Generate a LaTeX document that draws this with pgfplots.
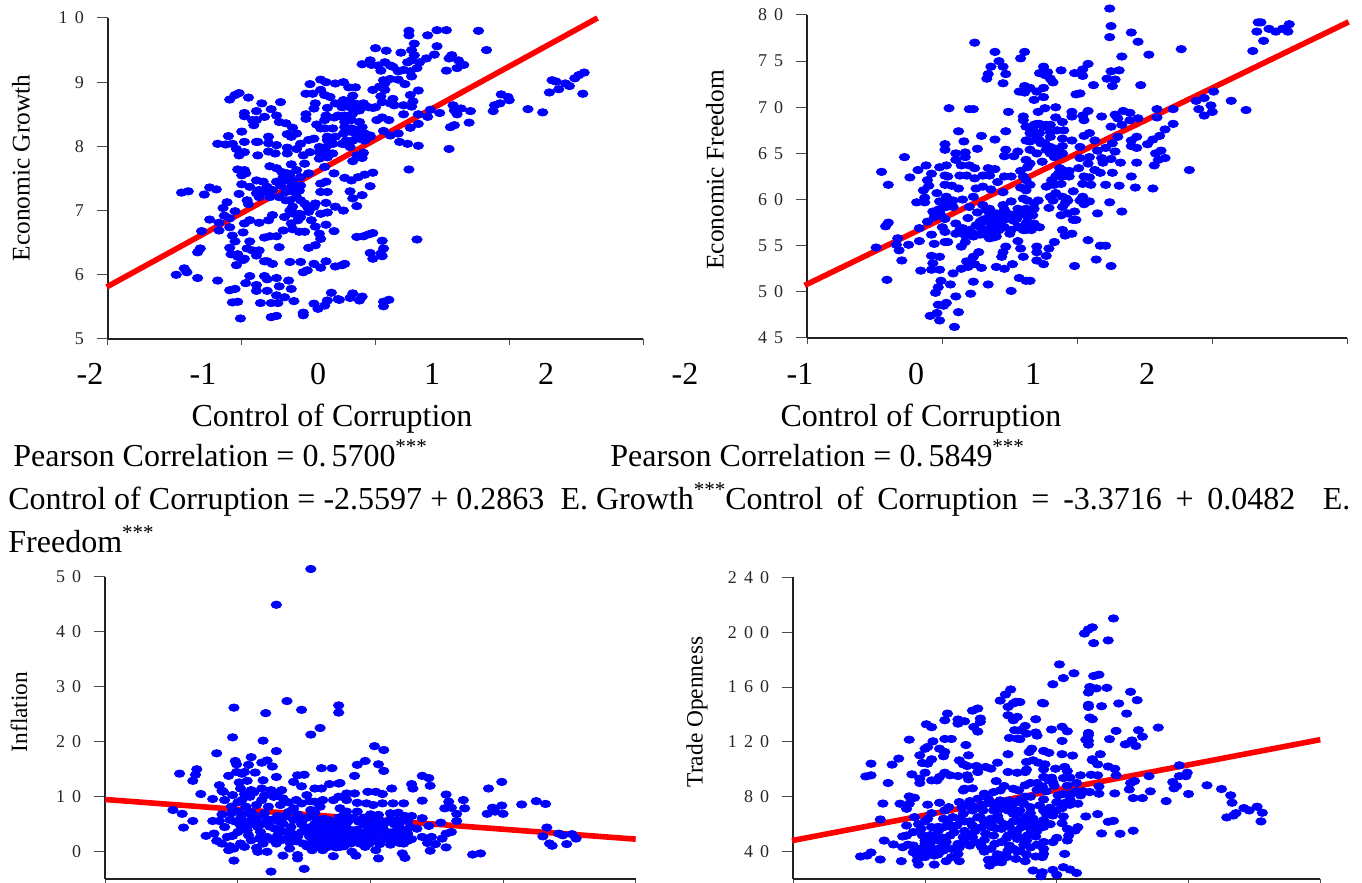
\documentclass[border=0pt]{standalone}
\usepackage{fontspec}
\setmainfont{Liberation Serif}
\usepackage{pgfplots}
\pgfplotsset{compat=1.18}
\definecolor{axisblack}{HTML}{222222}
\newcommand\stars{\raisebox{.42em}{\fontsize{10.5}{10.5}\selectfont ***}}
\newcommand\g{\hspace{3.6pt}}
\pgfplotsset{
  panel/.style={
    scale only axis, anchor=south west, clip=false,
    axis x line=bottom, axis y line=left,
    axis line style={-, line width=1.1pt, color=axisblack},
    xmin=-2, xmax=2, xtick={-2,-1,0,1,2}, xticklabels={},
    tick align=outside, major tick length=5.5pt,
    tick style={line width=.5pt, color=black!70},
    xtick style={/pgfplots/major tick length=3pt},
    yticklabel style={font=\fontsize{9}{9}\selectfont, xshift=-3pt, text=black!85},
  },
  dots/.style={only marks, mark=*, mark size=1.85pt, color=blue,
    mark options={xscale=1.4, draw=none, fill=blue}},
  fit/.style={no marks, red, line width=2.8pt},
}
\begin{document}
\begin{tikzpicture}
\useasboundingbox (0,0) rectangle (681pt,441.5pt);

% Economic Growth
\begin{axis}[panel, at={(54pt,272pt)}, width=267.5pt, height=160.5pt,
  ymin=5, ymax=10, ytick={5,6,7,8,9,10}, yticklabels={5,6,7,8,9,1\g 0}]
\addplot[dots] coordinates {
(.25,9.80)(.25,9.73)(.39,9.73)(.46,9.81)(.53,9.81)(.77,9.80)(.83,9.50)(0,9.53)(.08,9.49)(.19,9.46)(.27,9.50)(.29,9.60)(.46,9.56)(.44,9.43)(.57,9.42)(.55,9.37)(.62,9.34)(.66,9.27)(.61,9.22)(.53,9.18)
(-.10,9.28)(-.04,9.34)(-.03,9.27)(.07,9.31)(.04,9.18)(.13,9.24)(.17,9.17)(.24,9.31)(.29,9.42)(.33,9.31)(.38,9.37)(.31,9.22)(.26,9.17)(.27,9.09)
(.06,9.03)(.11,9.05)(.17,9.04)(.22,8.97)(.07,8.88)(-.02,8.88)(-.15,8.92)(-.20,8.92)(-.24,9.0)
(.32,8.87)(.26,8.80)(.28,8.70)(.13,8.74)(.04,8.78)(-.02,8.60)(.27,8.62)(.21,8.64)(.14,8.64)
(.21,8.50)(.32,8.50)(.39,8.46)(.41,8.57)(.48,8.52)(.58,8.64)(.59,8.56)(.64,8.59)(.71,8.55)(.61,8.50)(.70,8.37)(.59,8.33)(.56,8.30)
(.88,8.55)(.89,8.64)(.93,8.67)(.94,8.81)(.99,8.77)(1.0,8.72)
(1.14,8.58)(1.25,8.53)(1.30,8.84)(1.32,9.03)(1.35,9.01)(1.37,8.89)(1.42,8.98)(1.45,8.94)(1.49,9.06)(1.52,9.11)(1.56,9.15)(1.55,8.82)
(.01,8.41)(.05,8.45)(.10,8.41)(.06,8.24)(.26,8.29)(.32,8.35)(.17,8.20)(.11,8.17)(.18,8.07)(.24,8.04)(.32,8.01)(.55,7.96)(.25,7.64)
(-.12,8.38)(-.10,8.30)(-.18,8.28)(-.23,8.30)(-.15,8.20)(-.04,8.15)(-.08,8.09)(-.19,7.99)(-.25,8.04)(-.12,8.56)(-.19,8.61)(-.14,8.66)(-.23,8.71)(-.17,8.79)(-.25,8.46)(-.24,8.20)
(-.10,7.82)(-.17,7.77)(-.09,7.90)(-.14,7.86)
(-.02,7.59)(-.08,7.56)(-.13,7.52)(-.18,7.47)(-.23,7.51)(-.04,7.38)(-.19,7.30)(-.10,7.24)(-.17,7.19)(-.14,7.07)(-.24,7.0)
(-.14,6.59)(-.09,6.60)(-.05,6.63)(-.02,6.65)(.05,6.53)(.31,6.55)
(-.04,6.34)(.06,6.41)(.04,6.33)(.05,6.29)(-.02,6.25)(-.23,6.17)(-.25,6.15)
(-.17,5.71)(-.19,5.64)(-.12,5.60)(-.10,5.66)(-.27,5.61)(.06,5.51)(.06,5.58)(.10,5.61)
(-1.01,5.32)(-.78,5.34)(-.74,5.36)(-.54,5.37)(-.54,5.41)(-1.07,5.57)(-1.03,5.58)(-.86,5.56)(-.78,5.56)(-.73,5.56)(-.74,5.68)(-.68,5.65)(-.61,5.59)
(-1.09,5.76)(-1.05,5.78)(-.89,5.75)(-.81,5.75)(-.63,5.78)(-.97,5.87)(-.94,5.98)(-.89,5.84)(-.83,5.98)(-.81,5.93)(-.74,5.95)(-.72,5.82)(-.65,5.91)
(-1.49,6.0)(-1.43,6.10)(-1.41,6.04)(-1.33,5.95)(-1.18,5.91)
(-.46,5.55)(-.43,5.47)(-.38,5.52)(-.36,5.6)(-.33,5.72)(-.28,5.62)
(-.54,6.04)(-.51,6.07)(-.46,6.17)(-.41,6.11)(-.37,6.21)(-.30,6.13)(-.64,6.2)(-.56,6.2)(-.77,6.17)(-.81,6.21)(-.83,6.21)
(-1.04,6.15)(-.99,6.23)(-.98,6.25)(-1.03,6.28)(-1.08,6.32)(-1.03,6.32)(-.96,6.41)(-.92,6.38)(-.87,6.38)(-.89,6.30)
(-.94,6.52)(-.99,6.66)(-1.09,6.74)(-1.07,6.61)(-1.05,6.52)(-1.09,6.42)(-1.30,6.68)(-1.17,6.69)(-1.31,6.41)(-1.33,6.35)
(-.69,6.69)(-.62,6.71)(-.57,6.67)(-.53,6.67)(-.83,6.58)(-.79,6.60)(-.74,6.60)(-.72,6.43)(-.50,6.42)(-.45,6.46)(-.41,6.56)(-.42,6.64)(-.31,6.68)(-.37,6.78)(-.45,6.75)(-.48,6.85)(-.41,6.95)(-.36,6.97)(-.30,7.06)(-.37,7.12)
(-.41,7.42)(-.36,7.29)(-.41,7.29)(-.37,7.45)
(-1.45,7.28)(-1.40,7.30)(-1.28,7.25)(-1.24,7.36)(-1.19,7.33)(-1.11,7.13)(-1.14,7.04)(-1.13,6.92)(-1.24,6.86)(-1.17,6.81)(-1.05,6.99)(-1.09,6.88)(-.96,7.16)(-.95,7.10)(-.87,7.21)(-.79,7.29)(-.72,7.21)(-.63,7.36)(-.57,7.31)(-.67,7.16)(-.62,7.06)(-.56,7.16)(-.51,7.06)(-.46,7.06)(-.57,6.95)(-.64,7.0)(-.77,6.93)(-.68,6.90)(-.80,6.85)(-.87,6.81)(-.94,6.85)(-.98,6.80)
(-1.03,7.64)(-.98,7.63)(-.97,7.58)(-1.0,7.55)(-.79,7.69)(-.74,7.66)(-.63,7.72)(-.70,7.60)(-.59,7.63)(-.64,7.55)(-.89,7.47)(-.84,7.45)(-1.0,7.41)(-.94,7.37)(-1.02,7.26)(-.87,7.32)(-.74,7.45)(-.81,7.37)(-.67,7.47)(-.56,7.52)(-.63,7.45)(-.50,7.58)
(-1.10,8.16)(-1.18,8.04)(-1.12,8.03)(-1.07,8.04)(-1.04,7.96)(-1.02,7.86)(-.98,7.91)(-.98,8.07)(-.89,8.07)(-.88,8.07)(-.80,8.15)(-.80,8.05)(-.74,8.02)(-.80,7.92)(-.75,7.89)(-.66,7.98)(-.66,7.89)(-.88,7.86)
(-1.02,8.83)(-1.05,8.80)(-1.09,8.73)(-.95,8.76)(-.71,8.69)(-.85,8.67)(-.89,8.55)(-.78,8.58)(-.98,8.52)(-.98,8.47)(-.92,8.41)(-.89,8.41)(-.91,8.33)(-.83,8.46)(-.74,8.48)(-.72,8.38)(-.67,8.36)(-.62,8.29)(-.63,8.15)(-.66,8.19)(-.59,8.20)(-1.0,8.23)
(-.41,9.04)(-.37,9.0)(-.30,8.98)(-.49,8.97)(-.41,8.88)(-.52,8.82)(-.47,8.82)(-.38,8.80)(-.34,8.77)(-.30,8.67)(-.45,8.67)(-.46,8.59)(-.36,8.60)(-.28,8.48)(-.52,8.50)(-.52,8.43)(-.37,8.48)(-.38,8.41)(-.31,8.45)(-.44,8.34)(-.38,8.28)(-.32,8.28)(-.41,8.28)(-.46,8.12)(-.50,8.10)(-.36,8.15)(-.32,8.04)(-.42,7.99)(-.37,7.99)(-.32,7.89)(-.56,8.04)(-.59,7.96)(-.54,7.86)(-.49,7.91)(-.42,7.81)(-.36,7.83)(-.53,7.73)(-.38,7.68)(-.31,7.58)
(-.69,7.52)(-.66,7.58)(-.62,7.47)(-.71,7.39)(-.67,7.29)(-.61,7.29)(-.56,7.39)(-.64,7.16)(-.59,7.21)(-.53,7.11)(-.61,6.95)(-.56,6.90)(-.50,6.98)(-.45,7.11)(-.63,6.80)(-.58,6.85)(-.77,7.32)(-.84,7.29)(-.79,7.21)(-.89,7.27)
(-.32,8.04)(-.36,8.10)(-.40,7.94)(-.35,7.89)(-.42,7.91)(-.30,8.15)
(-.24,8.72)(-.19,8.72)(-.13,8.61)(-.17,8.51)(-.23,8.48)(-.25,8.61)(-.09,8.67)(-.05,8.61)(-.19,8.23)(-.14,8.25)(-.22,8.09)(-.17,8.09)(-.12,8.12)(-.08,8.20)(-.04,8.17)(-.24,8.04)(-.23,8.38)(-.18,8.41)(0,8.61)(.05,8.69)(.11,8.67)(.07,8.98)(.03,8.93)(.27,9.34)(.11,9.26)(.21,9.19)(.02,9.26)
};
\addplot[fit] coordinates {(-2.01,5.81)(1.66,10.0)};
\end{axis}

% Economic Freedom
\begin{axis}[panel, at={(403.65pt,272.5pt)}, width=270pt, height=161.5pt,
  ymin=45, ymax=80, ytick={45,50,55,60,65,70,75,80}, yticklabels={4\g 5,5\g 0,5\g 5,6\g 0,6\g 5,7\g 0,7\g 5,8\g 0}]
\addplot[dots] coordinates {
(.24,80.7)(.25,78.8)(.24,77.6)(.40,78.1)(.45,77.1)(.53,75.7)(.77,76.3)(.33,75.5)(.08,74.7)(.04,74.1)(-.02,73.7)(.04,73.4)(-.12,74.0)(-.25,74.4)(-.22,73.8)(-.28,73.7)(-.20,73.1)(-.18,72.7)(-.24,73.5)(.25,73.9)(.31,74.0)(.22,73.1)(.28,73.0)(.26,72.3)(.12,72.4)(.47,72.4)(.02,71.5)(-.01,71.4)(-.25,72.1)(-.30,71.7)(-.25,71.1)(-.32,70.8)(-.35,72.1)
(1.34,79.2)(1.36,79.2)(1.33,78.2)(1.42,78.5)(1.47,78.2)(1.56,78.2)(1.57,79.0)(1.52,78.5)(1.38,77.2)(1.30,76.1)(1.01,71.7)(.94,71.0)(.88,70.7)(.90,69.8)(.99,70.2)(1.0,69.5)(.94,69.1)(1.14,70.7)(1.25,69.7)
(-.16,70.0)(-.24,69.9)(-.29,69.5)(-.04,69.5)(-.04,69.0)(.08,69.6)(.04,69.1)(.05,68.6)(.18,69.0)(-.16,68.9)(-.11,68.4)(-.10,67.5)(.28,69.2)(.34,69.6)(.39,69.4)(.30,68.8)(.39,68.6)(.45,68.8)(.59,69.8)(.59,68.9)(.71,69.8)(.71,68.2)(.65,67.6)(.61,66.9)(.56,66.5)(.52,66.0)(.25,67.9)(.33,68.1)
(.09,67.2)(.05,66.9)(.13,66.4)(.44,66.8)(.40,66.4)(.40,65.8)(.44,65.6)(.26,66.1)(.21,65.6)(.15,65.3)(.30,66.8)(.62,65.3)(.58,65.0)(.65,64.5)(.60,64.3)(.57,63.7)(.44,64.0)(.32,64.0)(.28,65.2)(.25,64.4)(.18,64.5)(.19,64.0)(.08,63.9)(.09,64.6)(.02,64.5)(.02,65.7)(-.04,66.4)(-.11,66.6)(-.11,65.8)(-.20,66.8)(-.28,66.4)(-.35,66.3)
(.01,63.4)(-.06,63.1)(-.06,62.5)(-.13,63.4)(-.16,62.5)(-.12,61.7)(-.19,62.1)(-.23,61.4)(-.17,61.6)(-.35,61.6)(.05,62.5)(.09,62.4)(.04,61.7)(.10,61.6)(.17,62.9)(.26,62.9)(.13,63.2)(.21,61.6)(.31,61.5)(.40,62.5)(.43,61.3)(.56,61.2)(.83,63.2)
(-.03,60.9)(-.16,60.7)(-.20,60.3)(-.29,59.9)(-.08,60.1)(.04,60.3)(.09,59.8)(-.09,59.6)(.05,59.5)(-.21,59.1)(-.11,59.2)(-.02,58.7)(-.07,58.5)(-.12,58.3)(.24,59.7)(.15,58.5)(.33,58.7)(-.01,57.8)(-.03,57.8)(-.32,59.0)(-.33,58.3)(-.32,57.4)(-.28,57.0)(-.34,56.7)(-.11,56.7)(-.09,56.1)(-.04,56.3)(.08,55.6)(-.17,55.4)(-.21,54.7)(-.30,54.9)(-.30,54.3)(-.23,53.9)(-.30,53.4)(-.25,53.0)(-.02,52.8)(.14,53.5)(.25,52.8)(.17,55.0)(.21,55.0)(-.35,51.2)
(-.25,67.9)(-.30,68.2)(-.33,67.7)(-.23,68.1)(-.20,67.3)(-.27,66.1)(-.23,65.4)(-.18,65.2)(-.14,64.8)(-.30,65.0)(-.26,64.1)(-.35,63.9)
(-.76,77.0)(-.61,76.0)(-.58,75.0)(-.64,74.4)(-.55,74.4)(-.66,73.6)(-.67,73.1)(-.53,73.6)(-.55,72.6)(-.39,76.0)(-.42,75.3)(-.39,72.3)(-.43,71.7)(-.39,71.6)(-.95,69.9)(-.80,69.8)(-.77,69.8)(-.51,69.5)(-.40,69.0)(-.40,68.6)(-.38,67.9)
(-.88,67.4)(-.53,67.4)(-.71,66.9)(-.61,66.5)(-.84,66.3)(-.37,66.4)(-.98,66.0)(-.98,65.4)(-.74,65.5)(-.53,65.4)(-.54,64.7)(-.90,65.0)(-.83,65.1)(-.83,64.6)(-.44,65.2)(-.47,64.7)(-1.28,64.6)(-1.45,63.0)(-1.40,61.6)(-1.24,62.4)(-1.18,63.2)(-1.12,63.7)
(-1.08,62.8)(-1.11,62.1)(-1.10,61.5)(-1.14,61.0)(-1.04,60.7)(-1.02,63.5)(-.97,63.7)(-.90,64.3)(-.86,63.7)(-.80,63.7)(-.76,63.4)(-.66,63.4)(-.61,63.3)
(-.98,62.6)(-.96,62.5)(-.87,62.6)(-.82,62.6)(-.76,62.3)(-.70,62.6)(-.65,62.6)(-.59,61.9)(-.54,62.5)(-.49,62.5)(-.42,63.1)(-.98,61.6)(-.93,61.5)(-.88,61.2)(-.75,61.2)(-.70,61.4)(-.64,61.1)(-.55,60.8)(-.42,61.3)
(-1.13,60.2)(-1.19,59.7)(-1.13,59.7)(-1.02,59.8)(-.97,60.3)(-.92,59.9)(-.85,60.0)(-.77,60.3)(-.40,60.1)(-.49,59.8)(-.55,59.4)
(-1.07,58.7)(-1.03,58.9)(-.97,59.2)(-1.06,58.1)(-1.01,58.3)(-.80,59.2)(-.70,59.4)(-.65,59.0)(-.60,58.5)(-.54,58.9)(-.44,59.0)(-.38,59.0)(-.81,58.0)
(-1.40,57.5)(-1.42,57.1)(-1.11,57.6)(-1.17,56.9)(-1.0,57.0)(-1.08,56.2)(-.98,56.5)(-.90,57.4)(-.85,56.9)(-.75,57.2)(-.70,57.8)(-.65,58.1)(-.59,57.4)(-.54,57.8)(-.47,57.7)(-.43,57.0)(-.38,57.4)(-.38,56.7)(-.49,56.7)(-.58,56.7)(-.64,57.0)(-.69,56.7)(-.77,56.3)(-.83,56.1)(-.90,56.3)
(-1.33,55.8)(-1.49,54.8)(-1.34,55.1)(-1.32,54.5)(-1.30,53.4)(-1.25,55.1)(-1.17,55.5)(-1.06,55.2)(-.98,55.4)(-.96,55.4)(-.86,54.9)(-.83,55.4)(-.65,55.8)(-.53,54.9)(-.44,55.5)(-.55,54.3)(-.42,54.7)(-.40,53.8)(-.56,53.8)(-.73,54.3)(-.77,53.8)(-.82,53.3)(-.76,53.0)(-.71,52.6)(-.60,52.7)(-.54,52.5)(-.48,53.0)(-.43,51.5)(-.38,51.2)(-.49,50.1)
(-1.41,51.3)(-1.16,52.3)(-1.08,52.4)(-1.02,52.4)(-1.08,53.9)(-1.02,53.8)(-1.07,53.1)(-.92,52.0)(-.86,52.5)(-.81,52.7)(-1.01,51.2)(-.94,50.8)(-1.03,50.5)(-1.05,49.9)(-.77,51.1)(-.66,50.8)(-.79,49.8)(-.90,49.5)(-.97,48.8)(-1.03,48.6)(-.99,48.5)(-1.04,47.7)(-1.09,47.4)(-1.02,46.9)(-.91,46.2)(-.88,47.8)
(-.68,57.9)(-.66,56.2)(-.62,55.9)(-.72,57.6)(-.60,56.0)(-.74,58.6)(-.67,58.9)(-.63,57.6)(-.56,58.2)(-.50,58.4)(-.45,57.9)(-.40,58.4)
(-.72,57.0)(-.69,57.6)(-.65,56.7)(-.61,56.3)(-.66,56)(-.70,56.3)(-.72,56.2)(-.65,58.5)(-.61,58.1)(-.58,57.6)(-.54,57.0)(-.50,56.3)(-.44,57)(-.40,56.7)(-.37,57.6)(-.44,58.5)(-.38,58.3)(-.80,56.7)(-.82,56.2)(-.77,56)(-.87,56.7)(-.92,59.2)(-.97,59.9)(-1.01,59)(-1.03,58.3)(-.98,57.9)
(-.32,68.1)(-.28,68.2)(-.24,67.9)(-.20,68.1)(-.15,67.5)(-.28,67.2)(-.30,66.8)(-.24,66.1)(-.20,65.7)(-.16,65.5)(-.20,65)(-.17,64.6)(-.11,65)(-.35,67.2)(-.35,65.4)
(-.11,63.2)(-.11,62.5)(-.14,62.8)(-.20,61.6)(-.11,60.3)(-.07,59.9)(-.18,59.9)(.02,59.9)(-.32,59.6)(-.38,66.4)(-.38,64.3)(-.37,63.5)(-.40,62.5)(-.38,62.1)(-.38,61)(-.37,59.9)
};
\addplot[fit] coordinates {(-2.02,50.7)(2.01,79.25)};
\end{axis}

% Inflation
\begin{axis}[panel, at={(52.65pt,1.85pt)}, width=265.2pt, height=151.3pt,
  ymin=-5, ymax=50, ytick={0,10,20,30,40,50}, yticklabels={0,1\g 0,2\g 0,3\g 0,4\g 0,5\g 0}]
\addplot[dots] coordinates {
(-.45,51.4)(-.71,44.9)(-1.03,26.2)(-.63,27.4)(-.52,25.8)(-.79,25.2)(-.24,26.6)(-.24,25.3)(-.38,22.5)(-.45,21.3)(-1.04,20.8)(-.81,20.2)(-.71,18.3)(-1.16,17.9)(-.90,17.2)
(-1.02,16.5)(-1.01,15.9)(-.92,15.8)(-.82,16.2)(-.78,16.6)(-.74,15.5)(-1.31,15.0)(-1.44,14.2)(-1.32,14.0)(-1.34,12.9)(-1.28,10.5)(-1.19,9.6)
(-1.01,14.5)(-1.07,13.8)(-.97,14.2)(-.87,14.4)(-.95,14.5)(-.71,13.6)(-.55,13.9)(-.50,14.0)(-.37,15.2)(-.29,15.2)(-.31,12.3)(-.24,12.4)(-.81,13.0)(-.93,12.9)(-.99,12.6)(-1.14,12.1)(-.98,11.5)(-1.11,10.9)(-.90,11.2)(-.82,11.5)(-.75,11.2)(-.58,12.7)(-.52,11.9)(-.42,11.5)(-.37,11.5)(-1.12,11.1)(-.67,11.2)
(-1.10,9.4)(-1.04,10.3)(-.97,9.4)(-.91,10.0)(-.82,9.4)(-.73,10.0)(-.66,9.7)(-.56,9.4)(-.48,10.3)(-.42,9.1)(-.36,9.4)(-.28,9.4)(-.24,10.0)(-1.05,8.2)(-.94,8.2)(-.86,8.5)(-.77,8.2)(-.68,8.5)(-.58,7.9)(-.45,7.6)(-.38,8.2)
(-1.49,7.6)(-1.42,6.9)(-1.34,5.6)(-1.41,4.4)(-1.19,5.6)(-1.14,5.6)(-1.12,6.8)(-1.06,5.8)(-1.02,5.5)(-.97,6.7)(-.89,6.1)(-.81,5.1)(-.75,5.8)(-.66,5.1)(-.58,5.8)(-.51,5.8)(-.42,5.1)(-.35,6.0)(-.28,5.1)
(-1.24,2.9)(-1.18,3.3)(-1.08,2.7)(-1.04,2.9)(-.93,3.9)(-.92,3.0)(-.83,3.6)(-.78,2.7)(-.70,3.0)(-.63,3.6)(-.55,2.7)(-.48,3.9)(-.41,3.3)(-.33,3.9)(-.26,3.3)(-1.16,2.0)(-1.12,1.5)(-.98,1.5)(-.90,2.1)(-.81,1.5)(-.71,1.5)(-.61,1.8)(-.51,1.5)(-.41,2.1)(-.31,2.1)
(-1.06,1.0)(-1.07,.3)(-1.03,.6)(-.95,.9)(-.86,.7)(-.85,0)(-.78,0)(-.66,-.7)(-.61,.6)(-.55,-.6)(-.55,-1.2)(-.44,.3)(-.36,.3)(-.28,-.8)(-1.03,-1.6)(-.50,-3.1)(-.75,-3.6)
(-.45,4.5)(-.40,4.0)(-.33,2.8)(-.28,1.5)(-.25,5.5)(-.42,1.0)(-.46,2.8)(-.30,4.5)(-.36,5.2)(-.38,2.6)(-.24,2.5)(-.22,4.2)(-.35,1.2)(-.26,.8)
(.03,19.2)(.10,18.5)(-.04,16.5)(-.10,15.8)(.06,15.9)(.10,14.7)(-.12,13.8)(-.23,12.5)(.39,13.8)(.44,13.4)(.31,12.3)(.45,12.0)(.32,11.5)(.16,11.5)(.99,12.7)(.89,11.5)
(-.12,10.6)(-.02,10.9)(.04,10.9)(.09,10.5)(-.18,10.6)(.39,9.3)(.57,10.4)(.59,9.1)(.70,9.4)(.17,8.8)(.25,8.8)(.09,8.8)(.02,8.5)(-.03,8.8)(-.10,8.9)(-.18,9.4)
(.56,7.9)(.61,8.0)(.71,7.9)(.65,6.9)(.65,5.6)(.92,8.0)(.99,8.4)(.88,6.9)(.94,7.3)(1.0,6.9)(1.14,8.6)(1.25,9.2)(1.32,8.7)
(.15,7.0)(.21,7.1)(.26,6.5)(.31,6.5)(.39,6.1)(.06,6.7)(-.10,7.3)(-.18,7.3)(-.23,7.9)(.53,5.3)(.35,4.2)(.44,4.7)(.61,3.6)(.57,3.3)(.54,2.4)(.46,2.7)(.39,2.7)(.49,1.4)(.43,1.6)(.57,.8)(.45,.2)(.24,-.3)(.26,-1.1)(.06,-1.2)(.04,.3)(-.11,-.7)(-.14,0)(-.23,.9)(-.04,.9)(-.08,1.5)
(.30,4.5)(.25,4.0)(.20,3.0)(.28,2.0)(.22,1.6)(.15,3.5)(.18,5.0)(.10,4.0)(.05,3.0)(0,4.5)(-.05,5.0)(-.05,2.5)(.02,2.0)(.1,2.3)(.12,5.5)(.2,5.8)(-.15,3.0)(-.2,5.0)(-.1,4.0)(-.2,2.0)(-.15,1.5)(-.2,3.8)
(.77,-.5)(.83,-.3)(1.33,4.4)(1.30,2.8)(1.35,1.5)(1.37,1.1)(1.42,3.3)(1.45,3.0)(1.48,1.4)(1.52,3.2)(1.55,2.4)
(-.7,6.5)(-.62,7.2)(-.55,6.8)(-.9,7.2)(-.85,4.5)(-.72,4.2)(-.6,4.5)(-.52,5.0)(-.98,4.8)(-1.0,7.3)(-.95,5.5)(-.8,7.0)
(-.44,6.5)(-.40,5.8)(-.36,4.6)(-.32,5.8)(-.28,4.0)(-.24,6.2)(-.20,6.8)(-.17,5.5)(-.13,6.2)(-.09,5.5)(-.05,6.2)(-.02,4.8)(.02,5.5)(.05,4.8)(-.42,3.6)(-.38,3.9)(-.34,3.0)(-.30,2.2)(-.26,2.9)(-.22,3.2)(-.18,4.3)(-.14,3.9)(-.11,3.0)(-.07,3.4)(-.03,3.7)(0,3.0)(.03,3.8)(-.44,1.8)(-.40,1.4)(-.36,1.9)(-.32,.9)(-.28,1.9)(-.24,1.4)(-.20,1.0)(-.16,2.3)(-.12,1.9)(-.08,2.9)(-.05,1.3)(-.01,1.5)(.07,1.4)(.12,3.4)(.15,2.3)(.18,3.6)(.22,4.4)(.25,2.5)(.23,3.3)(.28,3.3)(.31,2.3)(.18,2.0)(.15,1.3)(.25,1.5)(.10,5.0)(.15,5.9)(.22,5.3)(.28,5.6)(.06,6.0)(0,6.8)
(-1.0,9.0)(-.95,10.5)(-.88,10.8)(-.80,10.2)(-.70,10.8)(-.62,9.0)(-.52,8.8)(-.46,9.2)(-.92,7.0)(-.85,6.4)(-.78,5.8)(-.70,5.6)(-.64,6.4)(-.6,7.4)(-.54,6.2)(-.48,6.2)(-.42,7.1)(-1.05,7.0)(-.98,6.0)(-.92,4.9)(-.85,5.2)(-.76,4.6)(-.68,3.9)(-.58,3.2)(-.52,3.6)(-.62,2.6)(-.74,2.2)(-.84,2.4)(-1.0,3.6)(-1.1,4.5)(-.66,2.2)(-.56,1.9)(-.48,1.0)
};
\addplot[fit] coordinates {(-2,9.5)(2.0,2.3)};
\end{axis}

% Trade Openness
\begin{axis}[panel, at={(396.65pt,2pt)}, width=263.5pt, height=150.85pt,
  ymin=20, ymax=240, ytick={40,80,120,160,200,240}, yticklabels={4\g 0,8\g 0,1\g 2\g 0,1\g 6\g 0,2\g 0\g 0,2\g 4\g 0}]
\addplot[dots] coordinates {
(.43,210)(.27,203.5)(.24,202)(.21,199)(.28,192)(.39,194)(.02,176.5)(.13,170)(.05,166.5)(-.03,162)(.28,168)(.32,169)
(.25,160)(.30,159)(.38,159.4)(.24,156)(.56,156.5)(.61,150.4)(.47,148)(.34,146)(.24,147)(.24,145.5)(.53,140.6)(-.11,148.4)(-.10,148)(-.28,149)
(-.16,136.5)(.25,137.7)(.27,136.5)(-.24,131.6)(-.04,129)(.04,131)(.08,127.7)(.77,130.4)(.62,128.5)(.45,128)(.24,126.5)(.24,124.8)(.65,123.8)(-.16,126.8)(-.15,124.6)(-.23,126)(-.28,128.5)(-.28,122)(.04,120.7)(.22,121.6)(.24,120.7)(.24,118)(.40,122)(.57,121)(.52,118.2)(.60,117)
(-.19,115)(-.21,112.6)(-.10,113.4)(-.06,112)(.04,111)(.12,110)(.33,111)(.27,107.3)(.31,103.6)(.27,106.6)(.39,102)(.44,100.4)(-.18,106.5)(-.23,105.3)(-.14,104.8)(-.09,103.6)(-.10,100)(-.01,100.4)(.06,101.7)(.08,98.7)
(-.24,98)(-.23,99.7)(.18,95.6)(.26,96)(.31,95.6)(.45,95.6)(-.10,94.4)(-.04,93.9)(.05,93.6)(.10,93.9)(.70,95)(.93,102.9)(.93,95)(.99,97.5)(.98,95)(.88,90.7)(.91,87.8)(.89,86.1)(.59,91.4)(.56,90)(.55,85.3)(.32,87.5)
(-.03,90.7)(-.11,87.5)(-.06,91.9)(-.24,88.3)(.44,82.4)(.32,82.2)(.18,81)(.11,82.2)(.25,83.4)(.01,81)(.71,83.9)
(1.14,88.3)(1.25,85.6)(1.32,81)(1.0,82)(.83,76.8)(.65,79)(.58,79)(1.33,75.6)
(1.42,71.7)(1.46,70)(1.52,72.7)(1.56,68.3)(1.36,68)(1.29,64.9)(1.55,62)(1.34,66.3)
(.16,74.9)(.10,74.1)(.04,71.7)(.06,75.4)(.31,67.3)(.22,65.6)(.05,65.6)(-.03,66.3)(-.08,67.5)(-.13,73.6)(-.20,72.4)(-.28,70)(-.18,64)(.43,62.4)(.39,61.7)(.04,60.7)(.16,57.8)(.14,55.4)(.08,56.6)(.58,55.2)(.48,53)(.34,53.2)(.09,51.7)(.08,48.1)(0,50)(-.03,46.9)(-.16,51)(-.23,48)(-.28,50.5)(-.20,56.6)(-.27,57.8)(-.24,65.1)
(.06,38.3)(-.10,38.3)(-.11,36)(-.16,36.4)(-.23,37.8)(-.28,40.8)(-.24,33)(-.18,26.2)(-.11,24.9)(-.03,26.6)(.05,28.6)(.10,26.9)(.15,24.4)(0,23)(-.12,22)
(-.35,158.2)(-.39,154.5)(-.43,150.1)(-.37,145.5)(-.33,148)(-.31,149.2)(-.37,139.4)(-.33,135.8)(-.30,138.2)(-.32,128.5)(-.30,122.4)(-.36,122.9)
(-.60,144.3)(-.64,142.8)(-.58,137)(-.58,134.6)(-.63,130.9)(-.60,127.5)(-.83,140.6)(-.85,135.8)(-.75,136.3)(-.75,133.3)(-.70,135)(-.99,132.8)(-.95,130.7)(-1.12,121.6)
(-.85,122.1)(-.80,122.1)(-.69,117.7)(-.94,120.4)(-.98,116.3)(-1.0,115)(-.89,115)(-.85,112.6)(-.86,109.5)(-.67,110.2)(-1.04,110.2)(-.37,111)
(-.95,107.3)(-1.02,104.6)(-.98,104.1)(-.74,106.5)(-.71,103.6)(-.68,102.4)(-.61,102.4)(-.54,101.7)(-.50,100.5)(-.45,104.8)(-1.41,104.1)(-1.25,103.4)(-1.20,107.8)(-1.45,94.8)(-1.41,95.6)(-1.28,90)
(-1.10,96.3)(-1.0,97.5)(-1.04,93.1)(-1.04,90)(-.95,91.9)(-.91,91.9)(-.85,97.5)(-.89,94.4)(-.81,95.6)(-.75,95.1)(-.68,95.6)(-.67,92.7)(-.60,98)(-.37,98)(-.46,91.4)(-.30,97.5)
(-.70,85.8)(-.64,86.1)(-.40,87.8)(-.33,85.8)(-.29,84.6)(-.55,82.2)(-.48,83.4)(-.43,84.6)(-.71,84.6)
(-1.12,80.2)(-1.08,79.2)(-1.32,75)(-1.19,74.9)(-1.12,74.9)(-1.14,71.2)(-.98,74.2)(-.89,75.6)(-.82,72.4)(-.74,76.1)(-.66,76.8)(-.60,78.5)(-.52,78.5)(-.43,77.3)(-.36,77.3)(-.30,76.1)
(-1.34,63.4)(-1.08,65.1)(-.98,63.9)(-1.14,59)(-.86,63.9)(-.79,65.1)(-.71,67.5)(-.64,70)(-.56,70)(-.50,63.9)(-.42,71.2)(-.37,70)(-.33,67.5)(-.30,62.7)
(-1.03,56.6)(-.95,57.8)(-.86,57.8)(-.76,59)(-.64,59)(-.57,57.8)(-.42,56.6)(-.30,55.4)(-1.14,51.7)(-1.09,54.2)(-1.17,51)(-1.02,51.7)(-.92,51.7)(-.81,51.7)(-.71,50.5)(-.64,50.5)(-.48,51.7)(-.37,51.7)(-1.31,48)(-1.24,45.2)(-1.17,43.2)(-1.09,44.4)(-1.0,45.6)(-.94,48)(-.84,46.9)(-.75,45.6)(-.66,44.4)(-.57,43.7)(-.47,45.6)(-.36,44.4)(-.30,49.3)(-.55,48.5)
(-1.49,36.4)(-1.44,37.1)(-1.41,39.3)(-1.34,34.2)(-1.18,33)(-1.06,37.1)(-1.06,33.5)(-1.05,30.5)(-.93,30.5)(-.93,37.1)(-.86,40.8)(-.80,35.9)(-.74,33)(-.75,38.3)
(-.52,34)(-.51,29.8)(-.47,34.7)(-.41,37.1)(-.42,32.2)(-.31,34.7)(-.47,32.2)(-.37,40.8)(-.57,43.2)(-1.09,39.5)(-1.03,42)
(-.25,75)(-.2,80)(-.15,85)(-.1,78)(-.05,72)(0,76)(.05,82)(-.2,62)(-.1,58)(-.15,55)(-.05,60)(-.25,45)(-.2,43)(-.15,45)(-.1,42)(-.22,52)(-.1,47)
(-.9,55)(-.8,58)(-.7,62)(-.6,65)(-.5,58)(-.9,48)(-.65,52)(-.55,62)(-.45,66)(-.95,68)(-.85,70)
(-1.05,60)(-1.0,62)(-.96,52)(-.9,58)(-.86,50)(-.82,60)(-.78,54)(-.74,64)(-.7,55)(-.66,62)(-.62,55)(-.58,65)(-.54,53)(-.5,60)(-.46,57)(-.44,63)(-.4,60)(-.36,58)(-.33,62)(-.38,50)(-.42,47)(-.34,53)(-.72,72)(-.68,74)(-.64,73)(-.6,72)(-.56,74)(-.5,75)(-.48,70)(-.44,73)(-.4,75)(-.34,72)(-.28,78)(-.24,80)(-.3,68)(-.25,60)(-.2,68)(-.15,60)(-.1,63)(-.1,70)(-.05,67)(0,70)(.05,75)(.1,78)(.15,84)(-.2,90)(-.15,90)(-.08,84)(-.02,88)(.08,88)(.15,90)(.2,84)(-1.0,48)(-.96,44)(-.9,42)(-.86,45)(-.8,42)(-.74,43)(-.7,47)(-.62,47)(-.55,40)(-.5,42)(-.45,38)(-.38,36)(-.33,42)(-.97,40)(-1.0,36)(-.9,38)(-.84,33)(-1.13,45)(-1.02,38)(-.3,40)
};
\addplot[fit] coordinates {(-2.01,48)(2.0,121.6)};
\end{axis}

% hand placed tick labels and text
\begin{scope}[every node/.style={inner sep=0pt, font=\fontsize{16}{16}\selectfont}]
\foreach \x/\t in {45/-2,101.5/-1,159/0,216/1,273/2,342.5/-2,400/-1,458/0,516.5/1,573.5/2}
  \node[anchor=base] at (\x pt,249pt) {\t};
\node[anchor=base] at (166pt,228pt) {Control of Corruption};
\node[anchor=base] at (460.5pt,228pt) {Control of Corruption};
\node[anchor=base west] at (6.5pt,208pt) {Pearson Correlation = 0.\hspace{2.5pt}5700\stars};
\node[anchor=base west] at (305pt,208pt) {Pearson Correlation = 0.\hspace{2.5pt}5849\stars};
\node[anchor=base west] at (4pt,186.5pt) {\makebox[358.5pt][s]{Control of Corruption = -2.5597 + 0.2863\ \ E. Growth\stars}};
\node[anchor=base west] at (362.5pt,186.5pt) {\makebox[312.5pt][s]{Control of Corruption = -3.3716 + 0.0482\ \ E.}};
\node[anchor=base west] at (4pt,165pt) {Freedom\stars};
\end{scope}
\begin{scope}[every node/.style={inner sep=0pt, rotate=90, font=\fontsize{12.7}{12.7}\selectfont}]
\node at (10.5pt,357.5pt) {Economic Growth};
\node at (357.5pt,356.5pt) {Economic Freedom};
\end{scope}
\begin{scope}[every node/.style={inner sep=0pt, rotate=90, font=\fontsize{11.7}{11.7}\selectfont}]
\node at (9.5pt,85.5pt) {Inflation};
\node at (348.5pt,85.5pt) {Trade Openness};
\end{scope}
\end{tikzpicture}
\end{document}
